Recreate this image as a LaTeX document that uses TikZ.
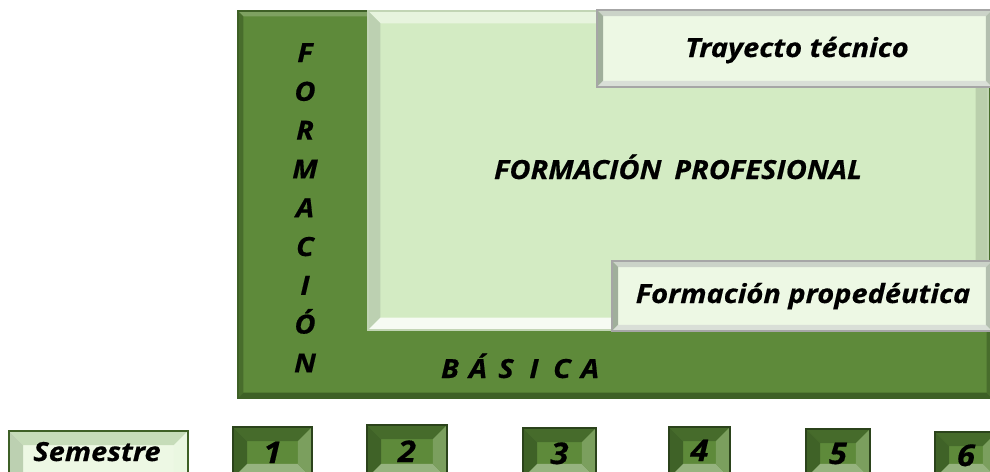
\documentclass[tikz,border=0pt]{standalone}
\usepackage{fontspec}
\setmainfont{Open Sans}[FakeStretch=1.1, BoldItalicFeatures={FakeBold=0.5}]
\definecolor{verde}{RGB}{94,138,58}
\definecolor{verdeosc}{RGB}{62,96,38}
\definecolor{verdeclaro}{RGB}{211,235,195}
\definecolor{palido}{RGB}{237,248,228}
\definecolor{gris}{RGB}{160,175,155}
\tikzset{
  bevel/.style n args={6}{fill=#1, path picture={
      \path (path picture bounding box.north west) coordinate (pnw)
            (path picture bounding box.north east) coordinate (pne)
            (path picture bounding box.south east) coordinate (pse)
            (path picture bounding box.south west) coordinate (psw);
      \fill[#3] (pnw) -- (pne) -- ([shift={(-#2,-#2)}]pne) -- ([shift={(#2,-#2)}]pnw) -- cycle;
      \fill[#4] (pnw) -- ([shift={(#2,-#2)}]pnw) -- ([shift={(#2,#2)}]psw) -- (psw) -- cycle;
      \fill[#5] (psw) -- ([shift={(#2,#2)}]psw) -- ([shift={(-#2,#2)}]pse) -- (pse) -- cycle;
      \fill[#6] (pse) -- ([shift={(-#2,#2)}]pse) -- ([shift={(-#2,-#2)}]pne) -- (pne) -- cycle;
  }},
  marco/.style={draw=verdeosc, line width=1pt,
    bevel={verde}{3pt}{verde!80!white}{verdeosc!70!verde}{verdeosc}{verdeosc!70!verde}},
  panel/.style={draw=verdeclaro!80!gray, line width=0.6pt,
    bevel={verdeclaro}{7pt}{verdeclaro!55!white}{gris!45!verdeclaro}{white!80!verdeclaro}{verdeclaro!88!black}},
  caja/.style={draw=gray!70, line width=0.6pt,
    bevel={palido}{3.5pt}{gris!55!white}{gris}{gris!40!white}{gris!80!white}},
  numbox/.style={draw=verdeosc!70!black, line width=0.6pt,
    bevel={verde}{8pt}{verdeosc!75!verde}{verdeosc!95!verde}{verde!65!white}{verde!82!white}},
  semcaja/.style={draw=verdeosc, line width=1pt,
    bevel={palido}{8pt}{verdeclaro!75!gris}{verdeclaro!55!gris}{white}{palido!90!verdeclaro}},
  etiqueta/.style={font=\fontsize{15}{17}\selectfont\bfseries\itshape, inner sep=0pt, anchor=base},
}
\begin{document}
\begin{tikzpicture}[x=0.02cm,y=-0.02cm]
    \useasboundingbox (0,0) rectangle (990,471);
    \fill[white] (0,0) rectangle (990,471);
    \clip (0,0) rectangle (990,471);

    % bloques
    \path[marco] (238,11) rectangle (992,398);
    \path[panel] (368,11) rectangle (988,330);
    \path[caja] (597,10) rectangle (992,87);
    \path[caja] (612,261) rectangle (992,331);

    \node[etiqueta] (tray) at (797,57) {Trayecto técnico};
    \node[etiqueta] (prof) at (678,179) {FORMACIÓN\hspace{0.2em} PROFESIONAL};
    \node[etiqueta] (prop) at (803,303) {Formación propedéutica};

    \foreach \l [count=\i] in {F,O,R,M,A,C,I,Ó,N}
        \node[etiqueta] (v\i) at (305,23.2+38.8*\i) {\l};
    \foreach \l [count=\i] in {B,Á,S,I,C,A}
        \node[etiqueta] (b\i) at (422+28*\i,378) {\l};

    % semestres
    \path[semcaja] (9,431) rectangle (188,490);
    \node[etiqueta] (sem) at (97,461) {Semestre};
    \foreach \n/\xl/\xr/\yt/\yb in {1/233/312/427/463,2/367/447/425/462,3/523/596/428/464,4/669/730/427/461,5/806/870/429/464,6/935/997/432/466}{
        \path[numbox] (\xl,\yt) rectangle (\xr,478);
        \node[etiqueta, font=\fontsize{17}{17}\selectfont\bfseries\itshape] (n\n) at ({(\xl+\xr)/2},\yb) {\n};
    }
\end{tikzpicture}
\end{document}
